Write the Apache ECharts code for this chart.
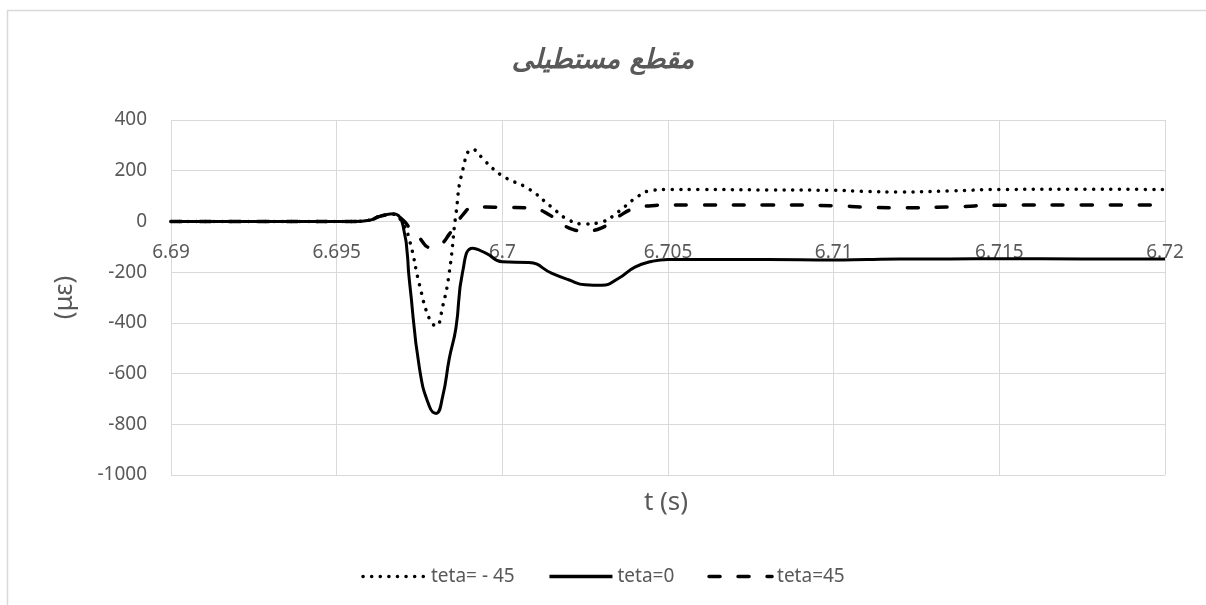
<!DOCTYPE html>
<html>
<head>
<meta charset="utf-8">
<script src="https://cdn.jsdelivr.net/npm/echarts@6/dist/echarts.min.js"></script>
<style>html,body{margin:0;padding:0;background:#fff}#c{width:1206px;height:605px}</style>
</head>
<body>
<div id="c"></div>
<script>
const titleText = 'مقطع مستطیلی';
const xTitle = 't (s)';
const yTitle = '(με)';
const seriesNames = ['teta= - 45', 'teta=0', 'teta=45'];

const times = [6.69, 6.692, 6.694, 6.6955, 6.696, 6.6963, 6.6967, 6.697, 6.6972, 6.6975, 6.6978, 6.698, 6.6982, 6.6984, 6.6986, 6.6988, 6.6991, 6.6995, 6.7, 6.7008, 6.7015, 6.702, 6.7025, 6.703, 6.7035, 6.704, 6.7045, 6.705, 6.706, 6.708, 6.71, 6.711, 6.712, 6.7135, 6.715, 6.7175, 6.72];

const tetaMinus45 = [0, 0, 0, 0, 5, 20, 28, -10, -75, -250, -385, -412, -335, -200, 30, 200, 284, 235, 180, 128, 55, 6, -10, -2, 38, 90, 122, 126, 126, 124, 123, 118, 116, 120, 126, 127, 126];
const teta0 = [0, 0, 0, 0, 5, 20, 30, -15, -240, -580, -730, -757, -690, -540, -420, -200, -106, -125, -159, -162, -205, -230, -250, -252, -225, -180, -158, -150, -150, -150, -152, -150, -148, -148, -147, -148, -148];
const teta45 = [0, 0, 0, 0, 5, 20, 28, 5, -25, -65, -102, -102, -85, -50, -15, 25, 55, 57, 55, 54, 20, -25, -37, -25, 19, 52, 62, 65, 65, 65, 62, 56, 54, 57, 64, 65, 65];

const pair = arr => times.map((t, i) => [t, arr[i]]);
const font = 'Noto Sans';
const gray = '#595959';
const styles = [
  { color: '#000', width: 3.5, type: [0.1, 8.5], cap: 'round' },
  { color: '#000', width: 3.5, type: 'solid', cap: 'butt' },
  { color: '#000', width: 3.5, type: [11, 18], cap: 'round' }
];

const chart = echarts.init(document.getElementById('c'));
chart.setOption({
  backgroundColor: '#fff',
  animation: false,
  title: {
    text: titleText,
    left: 'center',
    top: 42,
    textStyle: { fontFamily: 'DejaVu Sans', fontSize: 27, fontWeight: 'bold', fontStyle: 'italic', color: gray }
  },
  graphic: [
    { type: 'rect', shape: { x: 7.5, y: 10.5, width: 1300, height: 700 }, style: { fill: 'none', stroke: '#d9d9d9', lineWidth: 1.5 }, silent: true, z: -1 },
    { type: 'text', x: 666, y: 503, style: { text: xTitle, align: 'center', verticalAlign: 'middle', fontFamily: font, fontSize: 26, fill: gray } }
  ],
  legend: {
    top: 562,
    left: 'center',
    itemWidth: 63,
    itemHeight: 14,
    itemGap: 33,
    itemStyle: { color: 'rgba(0,0,0,0)', borderWidth: 0, opacity: 0 },
    textStyle: { fontFamily: font, fontSize: 19, color: gray },
    data: seriesNames.map((n, i) => ({ name: n, lineStyle: styles[i] }))
  },
  grid: { left: 171, right: 41, top: 120, bottom: 130, containLabel: false },
  xAxis: {
    type: 'value',
    min: 6.69,
    max: 6.72,
    interval: 0.005,
    offset: -253.6,
    axisLine: { onZero: false, lineStyle: { color: '#d9d9d9', width: 1 } },
    axisTick: { show: false },
    axisLabel: { margin: 22, fontFamily: font, fontSize: 19, color: gray, formatter: v => String(+v.toFixed(3)), showMinLabel: true, showMaxLabel: true },
    splitLine: { show: true, lineStyle: { color: '#d9d9d9', width: 1 } }
  },
  yAxis: {
    type: 'value',
    min: -1000,
    max: 400,
    interval: 200,
    name: yTitle,
    nameLocation: 'middle',
    nameGap: 93,
    nameRotate: 90,
    nameTextStyle: { fontFamily: font, fontSize: 26, color: gray },
    axisLine: { show: false },
    axisTick: { show: false },
    axisLabel: { margin: 24, fontFamily: font, fontSize: 19, color: gray, formatter: v => String(v) },
    splitLine: { show: true, lineStyle: { color: '#d9d9d9', width: 1 } }
  },
  series: [
    { name: seriesNames[0], type: 'line', data: pair(tetaMinus45), smooth: 0.5, symbol: 'none', color: '#000',
      lineStyle: styles[0] },
    { name: seriesNames[1], type: 'line', data: pair(teta0), smooth: 0.5, symbol: 'none', color: '#000',
      lineStyle: { color: '#000', width: 3, type: 'solid' } },
    { name: seriesNames[2], type: 'line', data: pair(teta45), smooth: 0.5, symbol: 'none', color: '#000',
      lineStyle: styles[2] }
  ]
});
</script>
</body>
</html>
